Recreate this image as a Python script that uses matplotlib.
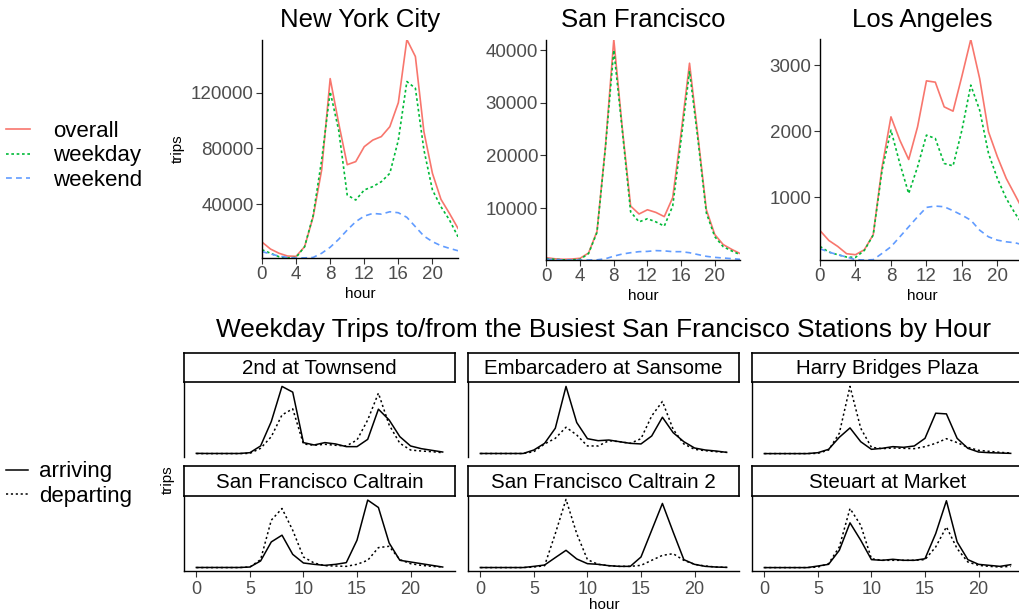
import matplotlib
matplotlib.use("Agg")
import matplotlib.pyplot as plt

plt.rcParams['font.family'] = ['Liberation Sans', 'DejaVu Sans']

W, H = 1020, 616

hours = list(range(24))

# ---- top row: trips by hour per city ----
nyc_overall = [13000, 8000, 5000, 3000, 2800, 9700, 31000, 64600, 130000, 98000, 68400, 70600,
               81300, 86000, 88500, 95600, 112800, 158000, 145800, 92000, 62200, 43600, 33500, 22800]
nyc_weekday = [7500, 5000, 2500, 1600, 2000, 9700, 32000, 71800, 120700, 93000, 46700, 43100,
               50300, 52700, 56200, 62200, 86000, 127900, 123100, 79000, 50300, 38300, 28800, 16800]
nyc_weekend = [6200, 4500, 3000, 2000, 1600, 1700, 2000, 5000, 9300, 15000, 21600, 27600,
               31600, 33500, 33000, 34700, 34000, 30700, 24000, 17300, 13300, 10400, 8500, 6800]

sf_overall = [600, 400, 300, 350, 500, 1500, 5600, 21600, 42000, 25300, 10400, 8900,
              9700, 9200, 8400, 12000, 24300, 37500, 23700, 9700, 5000, 3100, 2200, 1400]
sf_weekday = [400, 300, 200, 200, 300, 1400, 5400, 21400, 40000, 24900, 9300, 7400,
              8000, 7400, 6600, 10400, 23000, 36000, 23000, 9100, 4600, 2700, 1900, 1200]
sf_weekend = [300, 250, 170, 170, 170, 170, 200, 400, 900, 1300, 1550, 1750,
              1800, 1950, 1900, 1750, 1750, 1550, 1200, 870, 670, 550, 430, 300]

la_overall = [500, 350, 260, 150, 135, 210, 437, 1463, 2219, 1866, 1574, 2068,
              2763, 2743, 2370, 2305, 2834, 3388, 2798, 1992, 1615, 1287, 1035, 780]
la_weekday = [260, 175, 135, 100, 94, 200, 433, 1413, 2018, 1514, 1060, 1463,
              1942, 1892, 1514, 1478, 2018, 2698, 2320, 1665, 1287, 985, 758, 560]
la_weekend = [225, 175, 135, 100, 60, 55, 60, 155, 255, 405, 557, 708,
              850, 870, 860, 800, 733, 657, 506, 405, 355, 330, 315, 280]

cities = ["New York City", "San Francisco", "Los Angeles"]
city_data = [(nyc_overall, nyc_weekday, nyc_weekend),
             (sf_overall, sf_weekday, sf_weekend),
             (la_overall, la_weekday, la_weekend)]
city_yticks = [[40000, 80000, 120000], [10000, 20000, 30000, 40000], [1000, 2000, 3000]]
series_names = ["overall", "weekday", "weekend"]

# ---- bottom grid: weekday arrivals / departures at busiest SF stations ----
stations = ["2nd at Townsend", "Embarcadero at Sansome", "Harry Bridges Plaza",
            "San Francisco Caltrain", "San Francisco Caltrain 2", "Steuart at Market"]
arriving = [
    [30, 20, 20, 20, 20, 90, 690, 2870, 6000, 5490, 990, 780, 990, 870, 630, 630, 1280, 3970, 3010, 1520, 690, 450, 300, 150],
    [20, 20, 20, 20, 20, 330, 925, 2270, 6000, 2780, 1340, 1160, 1220, 1070, 925, 870, 1580, 3250, 1880, 1070, 510, 330, 240, 120],
    [10, 10, 10, 10, 10, 90, 390, 1460, 2300, 1070, 390, 480, 630, 570, 690, 1370, 3610, 3550, 1370, 480, 150, 90, 60, 30],
    [20, 20, 20, 20, 20, 60, 600, 2300, 2900, 1190, 420, 300, 210, 300, 450, 2450, 6030, 5370, 2210, 660, 510, 360, 210, 60],
    [15, 15, 15, 15, 15, 120, 240, 900, 1550, 780, 360, 300, 180, 120, 120, 955, 3340, 5730, 3190, 720, 300, 120, 60, 30],
    [10, 10, 10, 10, 10, 150, 300, 1550, 4000, 2450, 720, 660, 750, 660, 660, 800, 3040, 5970, 2300, 720, 300, 210, 120, 270],
]
departing = [
    [10, 10, 10, 10, 10, 30, 480, 1520, 3460, 4000, 870, 750, 840, 750, 690, 1220, 3010, 5400, 2570, 930, 330, 240, 180, 90],
    [15, 15, 15, 15, 15, 180, 870, 1370, 2360, 1670, 690, 690, 1160, 1070, 925, 1340, 3370, 4660, 2180, 870, 390, 270, 180, 120],
    [10, 10, 10, 10, 10, 30, 330, 1820, 6000, 2270, 570, 450, 510, 480, 450, 630, 925, 1340, 990, 570, 300, 210, 120, 60],
    [10, 10, 10, 10, 10, 60, 720, 4240, 5280, 3340, 955, 420, 180, 150, 120, 300, 660, 1790, 1910, 720, 360, 210, 120, 60],
    [10, 10, 10, 10, 10, 60, 180, 3040, 6090, 3040, 720, 300, 180, 120, 120, 210, 660, 1100, 1250, 660, 300, 150, 60, 30],
    [10, 10, 10, 10, 10, 60, 360, 1850, 5280, 3790, 800, 660, 660, 660, 660, 720, 1850, 3640, 1700, 510, 210, 120, 60, 120],
]

colors = ["#F8766D", "#00BA38", "#619CFF"]
styles = ["-", (0, (1.6, 1.6)), (0, (3.5, 2.5))]
tick_color = "#4D4D4D"


def px(l, t, r, b):
    return [l / W, 1 - b / H, (r - l) / W, (b - t) / H]


fig = plt.figure(figsize=(W / 100, H / 100), dpi=100)

top_boxes = [(262, 39.5, 458, 258), (546.5, 39.5, 740, 260), (820, 39.5, 1024, 260)]
handles = []
for i, (name, data) in enumerate(zip(cities, city_data)):
    ax = fig.add_axes(px(*top_boxes[i]))
    for s, col, ls, lab in zip(data, colors, styles, series_names):
        ln, = ax.plot(hours, s, color=col, linestyle=ls, lw=1.2, label=lab)
        if i == 0:
            handles.append(ln)
    lo = min(min(s) for s in data)
    hi = max(max(s) for s in data)
    ax.set_xlim(0, 23)
    ax.set_ylim(lo, hi)
    ax.set_xticks([0, 4, 8, 12, 16, 20])
    ax.set_yticks(city_yticks[i])
    for sp in ["top", "right"]:
        ax.spines[sp].set_visible(False)
    for sp in ["left", "bottom"]:
        ax.spines[sp].set_linewidth(1.0)
    ax.tick_params(labelsize=13.5, labelcolor=tick_color, color="#333333", length=4, width=0.8, pad=2)
    ax.set_xlabel("hour", fontsize=11, labelpad=3)
    if i == 0:
        ax.set_ylabel("trips", fontsize=11, labelpad=4)
    cx = (top_boxes[i][0] + top_boxes[i][2]) / 2
    fig.text(cx / W, 1 - 27 / H, name, fontsize=18.5, ha="center", va="baseline")

fig.legend(handles=handles, loc="center left", bbox_to_anchor=(6 / W, 1 - 156 / H),
           frameon=False, fontsize=16, handlelength=1.1, handletextpad=1.0,
           labelspacing=0.16, borderpad=0, borderaxespad=0)

# bottom facets
cols_x = [(184, 455), (468, 739), (752, 1023)]
rows_y = [(353, 382, 457), (466, 496, 571)]
all_vals = [v for s in arriving + departing for v in s]
lo, hi = min(all_vals), max(all_vals)
pad = 0.05 * (hi - lo)

for k, st in enumerate(stations):
    r, c = divmod(k, 3)
    l, rr = cols_x[c]
    st_t, p_t, p_b = rows_y[r]
    ax = fig.add_axes(px(l, p_t, rr, p_b))
    a1, = ax.plot(hours, arriving[k], color="black", lw=1.1, linestyle="-", label="arriving")
    d1, = ax.plot(hours, departing[k], color="black", lw=1.1, linestyle=(0, (1.4, 1.8)), label="departing")
    ax.set_xlim(-1.15, 24.15)
    ax.set_ylim(lo - pad, hi + pad)
    ax.set_yticks([])
    for sp in ["top", "right"]:
        ax.spines[sp].set_visible(False)
    ax.spines["left"].set_linewidth(1.0)
    if r == 0:
        ax.spines["bottom"].set_visible(False)
        ax.set_xticks([])
    else:
        ax.spines["bottom"].set_linewidth(1.0)
        ax.set_xticks([0, 5, 10, 15, 20])
        ax.tick_params(axis="x", labelsize=13, labelcolor=tick_color, color="#333333",
                       length=4, width=0.8, pad=3)
    sax = fig.add_axes(px(l, st_t, rr, p_t))
    sax.set_xticks([])
    sax.set_yticks([])
    for sp in sax.spines.values():
        sp.set_linewidth(1.2)
    sax.text(0.5, 0.45, st, transform=sax.transAxes, ha="center", va="center", fontsize=14.8)
    if k == 0:
        bottom_handles = [a1, d1]

fig.text(604 / W, 1 - 330 / H, "Weekday Trips to/from the Busiest San Francisco Stations by Hour",
         fontsize=18.9, ha="center", va="center")
fig.text(604 / W, 1 - 605 / H, "hour", fontsize=11, ha="center", va="center")
fig.text(168 / W, 1 - 480 / H, "trips", fontsize=11, ha="center", va="center", rotation=90)

fig.legend(handles=bottom_handles, loc="center left", bbox_to_anchor=(6 / W, 1 - 484 / H),
           frameon=False, fontsize=16, handlelength=1.0, handletextpad=0.5,
           labelspacing=0.15, borderpad=0, borderaxespad=0)

fig.savefig("out.png", dpi=100)
